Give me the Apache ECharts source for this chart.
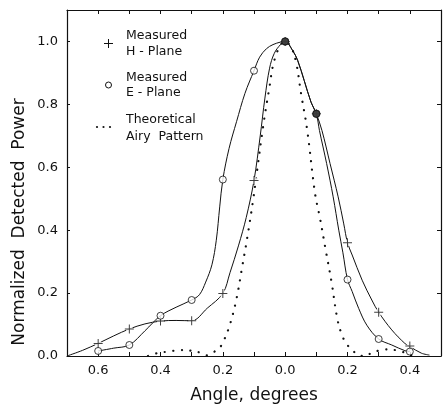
<!DOCTYPE html>
<html>
<head>
<meta charset="utf-8">
<script src="https://cdn.jsdelivr.net/npm/echarts@6/dist/echarts.min.js"></script>
<style>
html,body{margin:0;padding:0;background:#fff;}
#chart{width:444px;height:413px;}
</style>
</head>
<body>
<div id="chart"></div>
<script>
// Measured H-plane (+ markers)
var hPlaneAngles = [-0.6, -0.5, -0.4, -0.3, -0.2, -0.1, 0.0, 0.1, 0.2, 0.3, 0.4];
var hPlanePower  = [0.040, 0.086, 0.111, 0.112, 0.199, 0.558, 1.0, 0.77, 0.36, 0.139, 0.032];
// Drawn H-plane curve
var hCurveAngles = [-0.7, -0.65, -0.6, -0.55, -0.5, -0.45, -0.4, -0.35, -0.3, -0.25, -0.2, -0.177, -0.15, -0.125, -0.1, -0.08, -0.065, -0.05, -0.035, -0.015, 0.0,
                    0.024, 0.04, 0.061, 0.083, 0.1, 0.118, 0.144, 0.17, 0.188, 0.2, 0.215, 0.247, 0.278, 0.3, 0.342, 0.384, 0.4, 0.437, 0.463];
var hCurvePower  = [0.0, 0.018, 0.04, 0.064, 0.086, 0.102, 0.111, 0.113, 0.112, 0.152, 0.199, 0.265, 0.35, 0.44, 0.558, 0.70, 0.82, 0.915, 0.962, 0.99, 1.0,
                    0.971, 0.94, 0.876, 0.807, 0.77, 0.717, 0.612, 0.506, 0.42, 0.36, 0.321, 0.241, 0.178, 0.139, 0.083, 0.04, 0.03, 0.009, 0.003];

// Measured E-plane (o markers)
var ePlaneAngles = [-0.6, -0.5, -0.4, -0.3, -0.2, -0.1, 0.0, 0.1, 0.2, 0.3, 0.4];
var ePlanePower  = [0.016, 0.035, 0.128, 0.178, 0.561, 0.907, 1.0, 0.77, 0.243, 0.054, 0.014];
// Drawn E-plane curve
var eCurveAngles = [-0.6, -0.55, -0.5, -0.45, -0.4, -0.35, -0.3, -0.275, -0.255, -0.235, -0.221, -0.21, -0.2, -0.18, -0.156, -0.129, -0.1, -0.082, -0.06, -0.039, -0.015, 0.0,
                    0.024, 0.04, 0.061, 0.083, 0.1, 0.11, 0.133, 0.154, 0.172, 0.185, 0.2, 0.215, 0.236, 0.262, 0.3, 0.342, 0.384, 0.4];
var eCurvePower  = [0.016, 0.025, 0.035, 0.08, 0.128, 0.155, 0.178, 0.195, 0.235, 0.29, 0.368, 0.474, 0.561, 0.66, 0.745, 0.835, 0.907, 0.95, 0.977, 0.99, 0.998, 1.0,
                    0.971, 0.94, 0.876, 0.807, 0.77, 0.717, 0.612, 0.506, 0.4, 0.33, 0.243, 0.205, 0.151, 0.098, 0.054, 0.035, 0.017, 0.014];

// Points where both measurements coincide (drawn filled)
var sharedAngles = [0.0, 0.1];
var sharedPower  = [1.0, 0.77];

// Theoretical Airy pattern (dotted)
var airyAngles = [-0.44, -0.404, -0.372, -0.341, -0.304, -0.272, -0.25, -0.23, -0.209, -0.196, -0.177, -0.156, -0.137, -0.122, -0.103, -0.09, -0.071, -0.053, -0.031, 0.0,
                  0.019, 0.035, 0.051, 0.07, 0.096, 0.112, 0.13, 0.149, 0.167, 0.181, 0.196, 0.215, 0.236, 0.257, 0.278, 0.30, 0.32, 0.352, 0.374, 0.395, 0.42];
var airyPower  = [0.0, 0.0105, 0.014, 0.019, 0.017, 0.0105, 0.002, 0.012, 0.028, 0.051, 0.101, 0.183, 0.289, 0.374, 0.495, 0.59, 0.728, 0.839, 0.952, 1.0,
                  0.982, 0.934, 0.834, 0.723, 0.516, 0.437, 0.337, 0.234, 0.12, 0.07, 0.04, 0.019, 0.003, 0.0, 0.0105, 0.017, 0.021, 0.019, 0.014, 0.006, 0.0];

var xMin = -0.7, xMax = 0.5, xStep = 0.1;
var yMin = 0, yMax = 1.1, yStep = 0.2;

function pairs(xs, ys) { return xs.map(function (x, i) { return [x, ys[i]]; }); }

var FONT = 'DejaVu Sans';
var INK = '#111';

function xLabel(v) {
  var k = Math.round(v * 10);
  return (Math.abs(k) % 2 === 0) ? Math.abs(v).toFixed(1) : '';
}
function yLabel(v) {
  var k = Math.round(v * 10);
  return (Math.abs(k) % 2 === 0) ? v.toFixed(1) : '';
}

var plusPath = 'path://M4,0h1v4h4v1h-4v4h-1v-4h-4v-1h4z';

var chart = echarts.init(document.getElementById('chart'), null, {renderer: 'canvas'});
chart.setOption({
  animation: false,
  backgroundColor: '#fff',
  grid: {left: 67, right: 1, top: 10, bottom: 57},
  xAxis: [{
    type: 'value', min: xMin, max: xMax, interval: xStep, position: 'bottom',
    axisLine: {show: true, lineStyle: {color: INK, width: 1.2}},
    axisTick: {show: true, inside: true, length: 4, lineStyle: {color: INK}},
    axisLabel: {formatter: xLabel, color: INK, fontFamily: FONT, fontSize: 13, margin: 8},
    splitLine: {show: false},
    name: 'Angle, degrees', nameLocation: 'middle', nameGap: 31,
    nameTextStyle: {color: INK, fontFamily: FONT, fontSize: 17}
  }, {
    type: 'value', min: xMin, max: xMax, interval: xStep, position: 'top',
    axisLine: {show: true, onZero: false, lineStyle: {color: INK, width: 1.2}},
    axisTick: {show: true, inside: true, length: 4, lineStyle: {color: INK}},
    axisLabel: {show: false}, splitLine: {show: false}
  }],
  yAxis: [{
    type: 'value', min: yMin, max: yMax, interval: yStep, position: 'left',
    axisLine: {show: true, onZero: false, lineStyle: {color: INK, width: 1.2}},
    axisTick: {show: true, inside: true, length: 3, lineStyle: {color: INK}},
    axisLabel: {formatter: yLabel, color: INK, fontFamily: FONT, fontSize: 13, margin: 9},
    splitLine: {show: false}
  }, {
    type: 'value', min: yMin, max: yMax, interval: yStep, position: 'right',
    axisLine: {show: true, onZero: false, lineStyle: {color: INK, width: 1.2}},
    axisTick: {show: true, inside: true, length: 4, lineStyle: {color: INK}},
    axisLabel: {show: false}, splitLine: {show: false}
  }],
  series: [{
    name: 'Theoretical Airy Pattern', type: 'line', data: pairs(airyAngles, airyPower), smooth: 0.4,
    showSymbol: false, symbol: 'none',
    lineStyle: {color: INK, width: 2.2, type: [0.1, 8.5], cap: 'round'}, z: 2
  }, {
    name: 'H curve', type: 'line', data: pairs(hCurveAngles, hCurvePower), smooth: 0.35,
    showSymbol: false, symbol: 'none',
    lineStyle: {color: INK, width: 1}, z: 3
  }, {
    name: 'E curve', type: 'line', data: pairs(eCurveAngles, eCurvePower), smooth: 0.35,
    showSymbol: false, symbol: 'none',
    lineStyle: {color: INK, width: 1}, z: 3
  }, {
    name: 'H gap', type: 'scatter', data: pairs(hPlaneAngles, hPlanePower),
    symbol: 'circle', symbolSize: 7, itemStyle: {color: '#fff'}, z: 4
  }, {
    name: 'Measured H-Plane', type: 'scatter', data: pairs(hPlaneAngles, hPlanePower),
    symbol: plusPath, symbolSize: 9, itemStyle: {color: INK}, z: 5
  }, {
    name: 'Measured E-Plane', type: 'scatter', data: pairs(ePlaneAngles, ePlanePower),
    symbol: 'circle', symbolSize: 7,
    itemStyle: {color: '#fff', borderColor: INK, borderWidth: 1}, z: 6
  }, {
    name: 'Coincident', type: 'scatter', data: pairs(sharedAngles, sharedPower),
    symbol: 'circle', symbolSize: 8, itemStyle: {color: INK, borderWidth: 0}, z: 7
  }],
  graphic: [
    {type: 'text', x: 20, y: 222, rotation: Math.PI / 2,
     style: {text: 'Normalized  Detected  Power', fill: INK, font: '17px "DejaVu Sans"', textAlign: 'center', textVerticalAlign: 'middle'}},
    // legend
    {type: 'line', shape: {x1: 104, y1: 43.5, x2: 113, y2: 43.5}, style: {stroke: INK, lineWidth: 1}},
    {type: 'line', shape: {x1: 108.5, y1: 39, x2: 108.5, y2: 48}, style: {stroke: INK, lineWidth: 1}},
    {type: 'circle', shape: {cx: 108.5, cy: 85, r: 3}, style: {stroke: INK, fill: '#fff', lineWidth: 1}},
    {type: 'circle', shape: {cx: 97, cy: 127, r: 1.1}, style: {fill: INK}},
    {type: 'circle', shape: {cx: 103.5, cy: 127, r: 1.1}, style: {fill: INK}},
    {type: 'circle', shape: {cx: 110, cy: 127, r: 1.1}, style: {fill: INK}},
    {type: 'text', x: 126, y: 35.5, style: {text: 'Measured', fill: INK, font: '12.5px "DejaVu Sans"', textVerticalAlign: 'middle'}},
    {type: 'text', x: 126, y: 52, style: {text: 'H - Plane', fill: INK, font: '12.5px "DejaVu Sans"', textVerticalAlign: 'middle'}},
    {type: 'text', x: 126, y: 77.5, style: {text: 'Measured', fill: INK, font: '12.5px "DejaVu Sans"', textVerticalAlign: 'middle'}},
    {type: 'text', x: 126, y: 93, style: {text: 'E - Plane', fill: INK, font: '12.5px "DejaVu Sans"', textVerticalAlign: 'middle'}},
    {type: 'text', x: 126, y: 119.5, style: {text: 'Theoretical', fill: INK, font: '12.5px "DejaVu Sans"', textVerticalAlign: 'middle'}},
    {type: 'text', x: 126, y: 136.5, style: {text: 'Airy  Pattern', fill: INK, font: '12.5px "DejaVu Sans"', textVerticalAlign: 'middle'}}
  ]
});
</script>
</body>
</html>
